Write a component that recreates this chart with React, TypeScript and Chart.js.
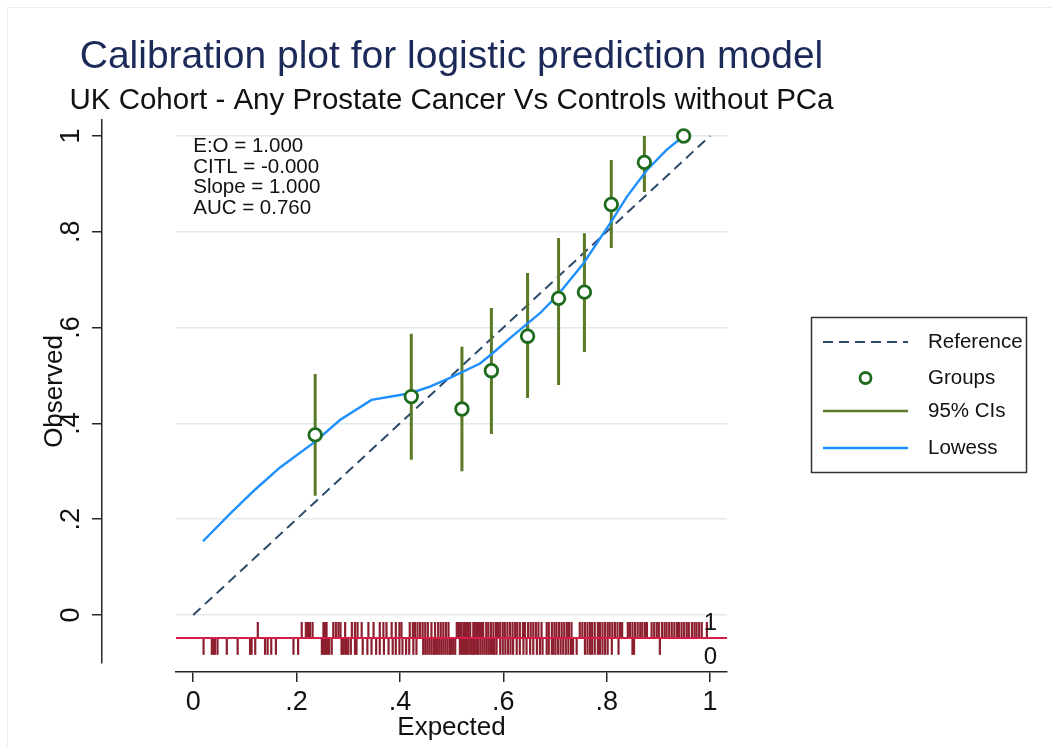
import React, { useEffect, useRef } from "react";
import { Chart, registerables } from "chart.js";

Chart.register(...registerables);

// ---------- data ----------
const X_TICKS = [0, 0.2, 0.4, 0.6, 0.8, 1];
const X_TICK_LABELS = ["0", ".2", ".4", ".6", ".8", "1"];
const Y_TICKS = [0, 0.2, 0.4, 0.6, 0.8, 1];
const Y_TICK_LABELS = ["0", ".2", ".4", ".6", ".8", "1"];

const TITLE = "Calibration plot for logistic prediction model";
const SUBTITLE = "UK Cohort - Any Prostate Cancer Vs Controls without PCa";
const X_TITLE = "Expected";
const Y_TITLE = "Observed";

const GROUP_EXPECTED = [0.236, 0.422, 0.52, 0.577, 0.647, 0.707, 0.757, 0.809, 0.873, 0.949];
const GROUP_OBSERVED = [0.376, 0.456, 0.43, 0.51, 0.582, 0.661, 0.674, 0.857, 0.945, 1.0];
const CI_LOWER = [0.249, 0.324, 0.3, 0.378, 0.453, 0.48, 0.549, 0.766, 0.883, 1.0];
const CI_UPPER = [0.503, 0.587, 0.56, 0.641, 0.714, 0.787, 0.797, 0.95, 1.0, 1.0];

const LOWESS_X = [0.019, 0.07, 0.12, 0.168, 0.236, 0.284, 0.345, 0.42, 0.458, 0.497, 0.516, 0.555, 0.58, 0.613, 0.671, 0.703, 0.755, 0.807, 0.839, 0.878, 0.916, 0.949];
const LOWESS_Y = [0.154, 0.21, 0.262, 0.308, 0.362, 0.407, 0.449, 0.463, 0.477, 0.495, 0.505, 0.525, 0.547, 0.578, 0.63, 0.665, 0.734, 0.818, 0.873, 0.929, 0.971, 1.0];

const REFERENCE_X = [0, 1];
const REFERENCE_Y = [0, 1];

// rug: predicted risks of cases (outcome 1) and controls (outcome 0)
const RUG_CASES = [
  0.125, 0.21, 0.218, 0.222, 0.226, 0.231, 0.252, 0.255, 0.258, 0.271, 0.276, 0.281, 0.285, 0.294, 0.307, 0.313, 0.318,
  0.326, 0.339, 0.349, 0.361, 0.368, 0.374, 0.384, 0.392, 0.399, 0.403,
  0.419, 0.425, 0.429, 0.434, 0.439, 0.444, 0.449, 0.454,
  0.461, 0.468, 0.474, 0.479, 0.484, 0.489, 0.494,
  0.51, 0.513, 0.516, 0.519, 0.523, 0.526, 0.529, 0.532, 0.536,
  0.542, 0.545, 0.549, 0.552, 0.555, 0.558, 0.561, 0.567, 0.571, 0.576, 0.581, 0.586, 0.59, 0.594, 0.599, 0.603, 0.608,
  0.613, 0.618, 0.623, 0.627, 0.632, 0.638, 0.642, 0.648, 0.653, 0.658, 0.663, 0.668, 0.674,
  0.684, 0.688, 0.694, 0.699, 0.703, 0.708, 0.713, 0.718, 0.723, 0.727, 0.732,
  0.748, 0.753, 0.758, 0.763, 0.768, 0.772, 0.777, 0.783, 0.787, 0.792, 0.797, 0.802, 0.806, 0.811, 0.816, 0.821, 0.826, 0.83,
  0.841, 0.845, 0.85, 0.855, 0.86, 0.865, 0.869, 0.874, 0.878,
  0.887, 0.892, 0.897, 0.901, 0.907, 0.912, 0.916, 0.921, 0.926, 0.931, 0.936, 0.94, 0.945, 0.95, 0.955, 0.959, 0.965, 0.97,
  0.974, 0.979, 0.984, 0.994,
];
const RUG_CONTROLS = [
  0.02, 0.036, 0.039, 0.042, 0.047, 0.065, 0.086, 0.11, 0.113, 0.12, 0.139, 0.144, 0.151, 0.16, 0.194, 0.203,
  0.249, 0.253, 0.256, 0.259, 0.263, 0.268, 0.287, 0.29, 0.294, 0.297, 0.3, 0.305, 0.313, 0.316,
  0.328, 0.337, 0.345, 0.354, 0.361, 0.369, 0.378, 0.386, 0.392, 0.399, 0.405, 0.412, 0.418, 0.426, 0.432,
  0.445, 0.449, 0.453, 0.457, 0.461, 0.465, 0.468, 0.472, 0.476, 0.48, 0.484, 0.488, 0.492, 0.496, 0.499, 0.503, 0.507,
  0.516, 0.52, 0.523, 0.526, 0.529, 0.532, 0.536, 0.539, 0.542, 0.545, 0.549, 0.552, 0.556, 0.56, 0.564, 0.568, 0.572,
  0.576, 0.58, 0.583, 0.587, 0.594, 0.599, 0.604, 0.609, 0.614, 0.619, 0.626, 0.632, 0.639, 0.645, 0.652, 0.658, 0.665,
  0.671, 0.676,
  0.684, 0.688, 0.694, 0.697, 0.701, 0.706, 0.711, 0.716, 0.721, 0.726, 0.731, 0.735, 0.742,
  0.758, 0.763, 0.768, 0.772, 0.777, 0.783, 0.787, 0.792, 0.797, 0.802, 0.81, 0.823, 0.85, 0.853, 0.903,
];
const RUG_CASE_Y = -0.0313;
const RUG_CONTROL_Y = -0.0658;
const RUG_BASE_Y = -0.048;
const RUG_LABELS = ["1", "0"];
const RUG_LABEL_Y = [-0.0165, -0.088];

const STATS_TEXT = ["E:O = 1.000", "CITL = -0.000", "Slope = 1.000", "AUC = 0.760"];
const STATS_TOP_Y = 0.978;
const LEGEND_LABELS = ["Reference", "Groups", "95% CIs", "Lowess"];

const X_MIN = -0.0333;
const X_MAX = 1.0329;
const Y_MIN = -0.1002;
const Y_MAX = 1.0334;

// ---------- styles ----------
const FONT = "'Liberation Sans', Arial, Helvetica, sans-serif";
const C_TITLE = "#1c2a5a";
const C_REF = "#2d4a6b";
const C_GROUP = "#1d6b1d";
const C_CI = "#5b7a27";
const C_LOWESS = "#1e8fff";
const C_RUG = "#8c1f2e";
const C_RUGLINE = "#d81c48";
const C_AXIS = "#262626";
const C_TEXT = "#111111";

const pickLabel = (ticks: number[], labels: string[]) => (v: any) => {
  const i = ticks.findIndex((t) => Math.abs(t - Number(v)) < 1e-6);
  return i >= 0 ? labels[i] : "";
};

const overlayPlugin = {
  id: "overlay",
  beforeDraw(chart: any) {
    const ctx = chart.ctx;
    ctx.save();
    ctx.fillStyle = "#ffffff";
    ctx.fillRect(0, 0, chart.width, chart.height);
    ctx.strokeStyle = "#e8eef1";
    ctx.lineWidth = 1;
    ctx.beginPath();
    ctx.moveTo(7.5, chart.height);
    ctx.lineTo(7.5, 7.5);
    ctx.lineTo(chart.width, 7.5);
    ctx.stroke();
    ctx.restore();
  },
  afterDraw(chart: any) {
    const ctx = chart.ctx;
    const xs = chart.scales.x;
    const ys = chart.scales.y;
    const area = chart.chartArea;
    const cx = (area.left + area.right) / 2;
    ctx.save();
    // titles (centred on the plot region)
    ctx.textAlign = "center";
    ctx.textBaseline = "middle";
    ctx.fillStyle = C_TITLE;
    ctx.font = `39px ${FONT}`;
    ctx.fillText(TITLE, cx, 57);
    ctx.fillStyle = C_TEXT;
    ctx.font = `29.5px ${FONT}`;
    ctx.fillText(SUBTITLE, cx, 101);

    // stats text
    ctx.fillStyle = C_TEXT;
    ctx.font = `20.5px ${FONT}`;
    ctx.textAlign = "left";
    const sx = xs.getPixelForValue(0);
    const sy = ys.getPixelForValue(STATS_TOP_Y);
    STATS_TEXT.forEach((t, i) => ctx.fillText(t, sx, sy + i * 20.5));
    // rug labels
    ctx.font = `24px ${FONT}`;
    ctx.textAlign = "center";
    RUG_LABELS.forEach((t, i) => ctx.fillText(t, xs.getPixelForValue(1) + 0.5, ys.getPixelForValue(RUG_LABEL_Y[i])));

    // legend
    const bx = 811.5, by = 317.5, bw = 215, bh = 155;
    ctx.strokeStyle = "#333333";
    ctx.lineWidth = 1.5;
    ctx.strokeRect(bx, by, bw, bh);
    const lx1 = 823, lx2 = 908, tx = 928;
    const rows = [342, 378, 411, 448];
    ctx.strokeStyle = C_REF;
    ctx.lineWidth = 2;
    ctx.setLineDash([10, 6]);
    ctx.beginPath();
    ctx.moveTo(lx1, rows[0]);
    ctx.lineTo(lx2, rows[0]);
    ctx.stroke();
    ctx.setLineDash([]);
    ctx.strokeStyle = C_GROUP;
    ctx.lineWidth = 2.8;
    ctx.fillStyle = "#ffffff";
    ctx.beginPath();
    ctx.arc((lx1 + lx2) / 2, rows[1], 5.5, 0, Math.PI * 2);
    ctx.fill();
    ctx.stroke();
    ctx.strokeStyle = C_CI;
    ctx.lineWidth = 2.5;
    ctx.beginPath();
    ctx.moveTo(lx1, rows[2]);
    ctx.lineTo(lx2, rows[2]);
    ctx.stroke();
    ctx.strokeStyle = C_LOWESS;
    ctx.lineWidth = 2.4;
    ctx.beginPath();
    ctx.moveTo(lx1, rows[3]);
    ctx.lineTo(lx2, rows[3]);
    ctx.stroke();
    ctx.fillStyle = C_TEXT;
    ctx.font = `20.5px ${FONT}`;
    ctx.textAlign = "left";
    ctx.textBaseline = "middle";
    LEGEND_LABELS.forEach((t, i) => ctx.fillText(t, tx, rows[i]));
    ctx.restore();
  },
};

export default function App() {
  const ref = useRef<HTMLCanvasElement | null>(null);

  useEffect(() => {
    if (!ref.current) return;
    Chart.defaults.font.family = FONT;

    const ciData: any[] = [];
    GROUP_EXPECTED.forEach((x, i) => {
      ciData.push({ x, y: CI_LOWER[i] });
      ciData.push({ x, y: CI_UPPER[i] });
      ciData.push({ x, y: null });
    });

    const chart = new Chart(ref.current, {
      type: "scatter",
      data: {
        datasets: [
          {
            label: "Groups",
            data: GROUP_EXPECTED.map((x, i) => ({ x, y: GROUP_OBSERVED[i] })),
            showLine: false,
            pointStyle: "circle",
            pointRadius: 6.3,
            pointHoverRadius: 6.3,
            pointBorderWidth: 2.8,
            pointBorderColor: C_GROUP,
            pointBackgroundColor: "#ffffff",
          },
          {
            label: "Lowess",
            data: LOWESS_X.map((x, i) => ({ x, y: LOWESS_Y[i] })),
            showLine: true,
            borderColor: C_LOWESS,
            borderWidth: 2.4,
            pointRadius: 0,
            tension: 0,
          },
          {
            label: "95% CIs",
            data: ciData,
            showLine: true,
            spanGaps: false,
            borderColor: C_CI,
            borderWidth: 3,
            pointRadius: 0,
          },
          {
            label: "Reference",
            data: REFERENCE_X.map((x, i) => ({ x, y: REFERENCE_Y[i] })),
            showLine: true,
            borderColor: C_REF,
            borderWidth: 2,
            borderDash: [10, 6],
            pointRadius: 0,
          },
          {
            label: "rugline",
            data: [
              { x: X_MIN, y: RUG_BASE_Y },
              { x: X_MAX, y: RUG_BASE_Y },
            ],
            showLine: true,
            borderColor: C_RUGLINE,
            borderWidth: 2,
            pointRadius: 0,
          },
          {
            label: "rug1",
            data: RUG_CASES.map((x) => ({ x, y: RUG_CASE_Y })),
            showLine: false,
            pointStyle: "line",
            pointRotation: 90,
            pointRadius: 8,
            pointHoverRadius: 8,
            pointBorderWidth: 2.2,
            pointBorderColor: C_RUG,
          },
          {
            label: "rug0",
            data: RUG_CONTROLS.map((x) => ({ x, y: RUG_CONTROL_Y })),
            showLine: false,
            pointStyle: "line",
            pointRotation: 90,
            pointRadius: 8.3,
            pointHoverRadius: 8.3,
            pointBorderWidth: 2.2,
            pointBorderColor: C_RUG,
          },
        ] as any,
      },
      options: {
        animation: false,
        responsive: false,
        maintainAspectRatio: false,
        devicePixelRatio: 1,
        events: [],
        layout: { padding: { left: 20, right: 325, top: 120, bottom: 0 } },
        plugins: {
          legend: { display: false },
          tooltip: { enabled: false },
          title: { display: false },
          subtitle: { display: false },
        } as any,
        scales: {
          x: {
            type: "linear",
            position: "bottom",
            min: X_MIN,
            max: X_MAX,
            weight: 0,
            grid: { display: false },
            border: { display: false },
            ticks: { display: false },
            afterFit: (s: any) => {
              s.height = 9;
            },
          },
          xAxis: {
            type: "linear",
            position: "bottom",
            min: X_MIN,
            max: X_MAX,
            weight: 1,
            afterBuildTicks: (s: any) => {
              s.ticks = X_TICKS.map((v) => ({ value: v }));
            },
            grid: { drawOnChartArea: false, drawTicks: true, tickLength: 10, color: C_AXIS, lineWidth: 1.5 },
            border: { display: true, color: C_AXIS, width: 1.5 },
            ticks: {
              color: C_TEXT,
              font: { family: FONT, size: 27 },
              padding: 4,
              maxRotation: 0,
              autoSkip: false,
              callback: pickLabel(X_TICKS, X_TICK_LABELS),
            },
            title: {
              display: true,
              text: X_TITLE,
              color: C_TEXT,
              font: { family: FONT, size: 26 },
              padding: { top: 0, bottom: 4 },
            },
            afterFit: (s: any) => {
              s.height = 75;
            },
          },
          y: {
            type: "linear",
            position: "left",
            min: Y_MIN,
            max: Y_MAX,
            weight: 0,
            afterBuildTicks: (s: any) => {
              s.ticks = Y_TICKS.map((v) => ({ value: v }));
            },
            grid: { display: true, drawOnChartArea: true, drawTicks: false, color: "#e2eaee", lineWidth: 1.5 },
            border: { display: false },
            ticks: { display: false },
            afterFit: (s: any) => {
              s.width = 74;
            },
          },
          yAxis: {
            type: "linear",
            position: "left",
            min: Y_MIN,
            max: Y_MAX,
            weight: 1,
            afterBuildTicks: (s: any) => {
              s.ticks = Y_TICKS.map((v) => ({ value: v }));
            },
            grid: { drawOnChartArea: false, drawTicks: true, tickLength: 10, color: C_AXIS, lineWidth: 1.5 },
            border: { display: true, color: C_AXIS, width: 1.5 },
            ticks: {
              color: C_TEXT,
              font: { family: FONT, size: 27 },
              padding: 9,
              minRotation: 90,
              maxRotation: 90,
              crossAlign: "center",
              autoSkip: false,
              callback: pickLabel(Y_TICKS, Y_TICK_LABELS),
            },
            title: {
              display: true,
              text: Y_TITLE,
              color: C_TEXT,
              font: { family: FONT, size: 26 },
              padding: { top: 19, bottom: 0 },
            },
            afterFit: (s: any) => {
              s.width = 82;
            },
          },
        } as any,
      },
      plugins: [overlayPlugin],
    });

    return () => chart.destroy();
  }, []);

  return (
    <div style={{ position: "absolute", left: 0, top: 0, width: 1052, height: 747, background: "#ffffff" }}>
      <canvas ref={ref} width={1052} height={747} style={{ display: "block", width: 1052, height: 747 }} />
    </div>
  );
}
